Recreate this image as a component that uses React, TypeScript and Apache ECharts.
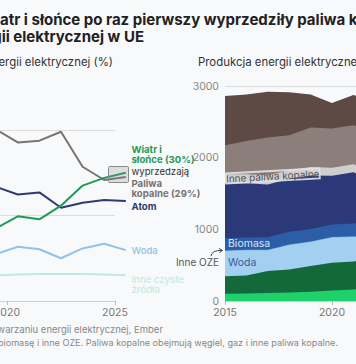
import React, { useEffect, useRef } from "react";
import * as echarts from "echarts";

// ---- Left panel: share of electricity generation (%) ----
const shareYears = [2019, 2020, 2021, 2022, 2023, 2024, 2025];
const windSolarShare = [17.0, 19.8, 19.1, 22.3, 27.0, 28.8, 30.0];
const fossilShare = [40.1, 37.1, 37.5, 39.6, 31.4, 28.3, 29.0];
const nuclearShare = [26.7, 24.9, 25.4, 21.8, 23.0, 23.6, 23.4];
const hydroShare = [11.0, 12.7, 12.1, 10.0, 12.3, 13.4, 11.9];
const otherCleanShare = [6.0, 6.2, 6.3, 6.3, 6.3, 6.2, 6.0];

// ---- Right panel: generation (TWh) ----
const genYears = [2015, 2016, 2017, 2018, 2019, 2020, 2021, 2022, 2023, 2024, 2025];
const solarTWh = [100, 106, 113, 118, 128, 145, 160, 200, 250, 300, 340];
const windTWh = [245, 249, 307, 322, 362, 390, 390, 420, 470, 480, 500];
const hydroTWh = [353, 353, 287, 342, 332, 350, 344, 280, 335, 360, 320];
const otherRenewTWh = [7, 7, 8, 8, 8, 8, 8, 8, 8, 8, 8];
const biomassTWh = [172, 172, 175, 176, 176, 173, 178, 170, 165, 160, 160];
const nuclearTWh = [762, 755, 735, 740, 745, 683, 715, 610, 620, 650, 650];
const otherFossilTWh = [130, 125, 125, 120, 118, 110, 112, 105, 95, 90, 85];
const gasTWh = [405, 467, 532, 488, 553, 549, 547, 560, 460, 420, 430];
const coalTWh = [687, 646, 639, 599, 458, 355, 421, 445, 330, 270, 260];

// stacking order, bottom to top
const genLayers: [string, number[], string][] = [
  ["Słońce", solarTWh, "#1fd16b"],
  ["Wiatr", windTWh, "#13693a"],
  ["Woda", hydroTWh, "#a3cff0"],
  ["Inne OZE", otherRenewTWh, "#6fa8dc"],
  ["Biomasa", biomassTWh, "#2b5ea6"],
  ["Atom", nuclearTWh, "#2c3978"],
  ["Inne paliwa kopalne", otherFossilTWh, "#cfcfd2"],
  ["Gaz", gasTWh, "#8b7e7b"],
  ["Węgiel", coalTWh, "#5d4a44"],
];

const FONT = "Inter, 'Noto Sans', sans-serif";
const BG = "#f8f9fa";

const pairs = (xs: number[], ys: number[]) => xs.map((x, i) => [x, ys[i]]);

export default function App() {
  const ref = useRef<HTMLDivElement>(null);
  useEffect(() => {
    if (!ref.current) return;
    const chart = echarts.init(ref.current, undefined, { renderer: "svg" });
    const ctx = document.createElement("canvas").getContext("2d")!;
    const measure = (t: string, f: string) => {
      ctx.font = f;
      return ctx.measureText(t).width;
    };
    const titleFont = `bold 15px ${FONT}`;
    const title1X = -measure("Wi", titleFont);

    const lineSeries = (name: string, data: number[], color: string) => ({
      type: "line",
      name,
      xAxisIndex: 2,
      yAxisIndex: 2,
      data: pairs(shareYears, data),
      showSymbol: false,
      clip: false,
      lineStyle: { color, width: 2 },
      itemStyle: { color },
      z: 3,
    });

    const running = genYears.map(() => 0);
    const cumulative = genLayers.map(([name, vals, color]) => {
      const top = vals.map((v, i) => (running[i] += v));
      return { name, top, color };
    });
    const areaSeries = cumulative
      .slice()
      .reverse()
      .map(({ name, top, color }) => ({
        type: "line",
        name,
        xAxisIndex: 1,
        yAxisIndex: 1,
        data: pairs(genYears, top),
        showSymbol: false,
        lineStyle: { width: 0, color },
        areaStyle: { color, opacity: 1, origin: "start" },
        itemStyle: { color },
        z: 2,
      }));

    const txt = (
      text: string,
      x: number,
      y: number,
      fill: string,
      font: string,
      align = "left",
      extra: any = {}
    ) => ({
      type: "text",
      x,
      y,
      z: 100,
      ...extra,
      style: {
        text,
        x: 0,
        y: 0,
        fill,
        font,
        textAlign: align,
        textVerticalAlign: "middle",
        ...(extra.style || {}),
      },
    });

    const lab = `10.5px ${FONT}`;
    const sl = `9.6px ${FONT}`;
    const slB = `bold 9.6px ${FONT}`;
    const slM = `500 9.6px ${FONT}`;
    const yearPx = 21.6;

    chart.setOption({
      animation: false,
      backgroundColor: BG,
      grid: [
        { left: -101, width: yearPx * 10, top: 130, height: 171, outerBoundsMode: "none", containLabel: false },
        { left: 225, width: 214, top: 86, height: 215, outerBoundsMode: "none", containLabel: false },
        { left: -101, width: yearPx * 11, top: 130, height: 171, outerBoundsMode: "none", containLabel: false },
      ],
      xAxis: [
        {
          type: "value",
          gridIndex: 0,
          min: 2014.5,
          max: 2024.5,
          interval: 5,
          axisLine: { show: true, lineStyle: { color: "#cfcfcf" } },
          axisTick: { show: true, length: 4, lineStyle: { color: "#bdbdbd" } },
          splitLine: { show: false },
          axisLabel: {
            color: "#777",
            fontSize: 10.5,
            fontFamily: FONT,
            margin: 6,
            formatter: (v: number) => String(v + 0.5),
          },
        },
        {
          type: "value",
          gridIndex: 1,
          min: 2015,
          max: 2025,
          interval: 5,
          axisLine: { show: true, lineStyle: { color: "#cfcfcf" } },
          axisTick: { show: true, length: 4, lineStyle: { color: "#bdbdbd" } },
          splitLine: { show: false },
          axisLabel: {
            color: "#777",
            fontSize: 10.5,
            fontFamily: FONT,
            margin: 6,
            formatter: (v: number) => String(v),
          },
        },
        {
          type: "value",
          gridIndex: 2,
          min: 2014.5,
          max: 2025.5,
          show: false,
        },
      ],
      yAxis: [
        {
          type: "value",
          gridIndex: 0,
          min: 0,
          max: 40,
          interval: 20,
          axisLine: { show: false },
          axisTick: { show: false },
          axisLabel: { show: false },
          splitLine: { show: true, lineStyle: { color: "#dcdcdc", width: 1 } },
        },
        {
          type: "value",
          gridIndex: 1,
          min: 0,
          max: 3000,
          interval: 1000,
          axisLine: { show: false },
          axisTick: { show: false },
          axisLabel: {
            color: "#888",
            fontSize: 10.5,
            fontFamily: FONT,
            margin: 6,
            formatter: (v: number) => String(v),
          },
          splitLine: { show: true, lineStyle: { color: "#dcdcdc", width: 1 } },
        },
        {
          type: "value",
          gridIndex: 2,
          min: 0,
          max: 40,
          show: false,
          splitLine: { show: false },
        },
      ],
      series: [
        lineSeries("Inne czyste źródła", otherCleanShare, "#bfe8de"),
        lineSeries("Woda", hydroShare, "#8fc3ea"),
        lineSeries("Atom", nuclearShare, "#2e3a72"),
        lineSeries("Paliwa kopalne", fossilShare, "#787373"),
        lineSeries("Wiatr i słońce", windSolarShare, "#1f9a57"),
        ...areaSeries,
      ],
      graphic: [
        txt("Wiatr i słońce po raz pierwszy wyprzedziły paliwa kopalne w produkcji", title1X, 19, "#222", titleFont),
        txt("energii elektrycznej w UE", 144, 36, "#222", titleFont, "right"),
        txt("Udział w produkcji energii elektrycznej (%)", 113, 62, "#333", `11.4px ${FONT}`, "right"),
        txt("Produkcja energii elektrycznej (TWh)", 198, 62, "#333", `11.4px ${FONT}`),
        txt("Źródło: dane o wytwarzaniu energii elektrycznej, Ember", 163, 329, "#888", `9.5px ${FONT}`, "right"),
        txt(
          "Uwaga: inne czyste źródła obejmują biomasę i inne OZE. Paliwa kopalne obejmują węgiel, gaz i inne paliwa kopalne.",
          338,
          342,
          "#888",
          `9.1px ${FONT}`,
          "right"
        ),
        // crossing highlight box
        {
          type: "rect",
          z: 90,
          shape: { x: 108.5, y: 166.5, width: 20, height: 16, r: 1 },
          style: { fill: "rgba(140,140,140,0.25)", stroke: "#8a8a8a", lineWidth: 1 },
        },
        // left line labels
        txt("Wiatr i", 131.5, 149.5, "#1f9a57", slB),
        txt("słońce (30%)", 131.5, 159.5, "#1f9a57", slB),
        txt("wyprzedzają", 131.5, 171, "#333", sl),
        txt("Paliwa", 131.5, 183, "#787373", slB),
        txt("kopalne (29%)", 131.5, 193, "#787373", slB),
        txt("Atom", 131.5, 206, "#2e3a72", slB),
        txt("Woda", 131.5, 250, "#8fc3ea", slM),
        txt("Inne czyste", 131.5, 279.5, "#c5ebe2", slM),
        txt("źródła", 131.5, 289.5, "#c5ebe2", slM),
        // right area labels
        txt("Inne paliwa kopalne", 226, 178.5, "#555", `10px ${FONT}`, "left", {
          rotation: 0.055,
          style: { textBorderColor: "rgba(225,225,228,0.9)", textBorderWidth: 2 },
        }),
        txt("Biomasa", 228, 243.5, "#d6e6f7", lab),
        txt("Woda", 228, 262, "#3b5d9c", lab),
        txt("Inne OZE", 219, 262, "#555", `10px ${FONT}`, "right"),
        {
          type: "bezierCurve",
          z: 100,
          shape: { x1: 211, y1: 256, x2: 222, y2: 250.5, cpx1: 212, cpy1: 250 },
          style: { stroke: "#444", lineWidth: 1, fill: null },
        },
        {
          type: "polyline",
          z: 100,
          shape: { points: [[219, 248.5], [222.5, 250.5], [219.5, 252.5]] },
          style: { stroke: "#444", lineWidth: 1, fill: null },
        },
      ],
    });
    return () => chart.dispose();
  }, []);
  return (
    <div
      ref={ref}
      style={{ position: "absolute", left: 0, top: 0, width: 356, height: 364, background: BG }}
    />
  );
}
